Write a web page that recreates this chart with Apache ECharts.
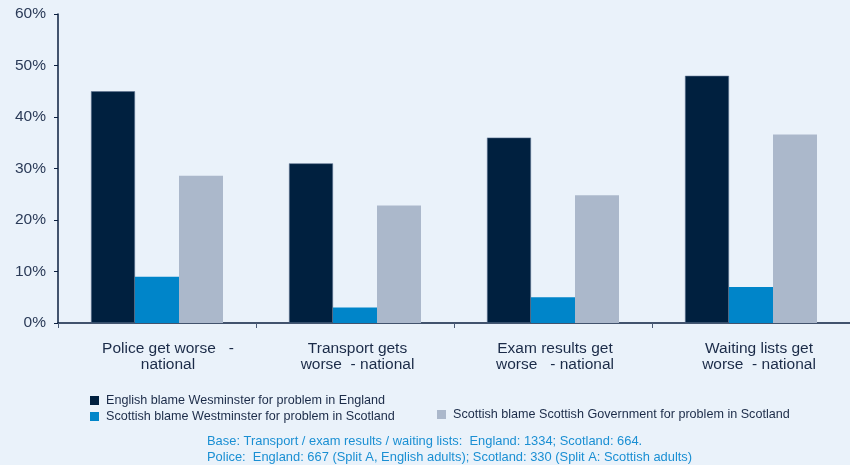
<!DOCTYPE html>
<html>
<head>
<meta charset="utf-8">
<script src="https://cdn.jsdelivr.net/npm/echarts@6/dist/echarts.min.js"></script>
<style>
  html, body { margin: 0; padding: 0; background: #eaf2fa; }
  #chart { width: 850px; height: 465px; }
</style>
</head>
<body>
<div id="chart"></div>
<script>
// Categories and series (percent of respondents)
const categories = [
  'Police get worse   -\nnational',
  'Transport gets\nworse  - national',
  'Exam results get\nworse   - national',
  'Waiting lists get\nworse  - national'
];
const englishBlameWestminster = [45, 31, 36, 48];
const scottishBlameWestminster = [9, 3, 5, 7];
const scottishBlameScotGov = [28.6, 22.8, 24.8, 36.6];

const seriesNames = [
  'English blame Wesminster for problem in England',
  'Scottish blame Westminster for problem in Scotland',
  'Scottish blame Scottish Government for problem in Scotland'
];
const yTicks = { min: 0, max: 60, interval: 10 };
const footnote = [
  'Base: Transport / exam results / waiting lists:  England: 1334; Scotland: 664.',
  'Police:  England: 667 (Split A, English adults); Scotland: 330 (Split A: Scottish adults)'
];

const font = '"Liberation Sans", Arial, Helvetica, sans-serif';
const textColor = '#1b2b48';
const colors = ['#00203f', '#0085c9', '#abb8cb'];
// small left nudges for the category labels (px of left padding)
const labelNudge = [22, 5, 4, 16];

const chart = echarts.init(document.getElementById('chart'), null, { renderer: 'canvas' });

const legendBase = {
  icon: 'rect',
  itemWidth: 9,
  itemHeight: 9,
  itemGap: 5,
  selectedMode: false,
  itemStyle: { borderWidth: 0 },
  textStyle: { fontFamily: font, fontSize: 12.6, color: textColor, padding: [0, 0, 0, 2] },
  padding: 0
};

chart.setOption({
  backgroundColor: '#eaf2fa',
  animation: false,
  color: colors,
  title: {
    text: footnote.join('\n'),
    left: 207,
    top: 433,
    padding: 0,
    textStyle: { fontFamily: font, fontSize: 12.9, fontWeight: 'normal', color: '#1a8fd3', lineHeight: 16 }
  },
  legend: [
    Object.assign({}, legendBase, { left: 90, top: 394, data: [seriesNames[0]] }),
    Object.assign({}, legendBase, { left: 90, top: 410, data: [seriesNames[1]] }),
    Object.assign({}, legendBase, { left: 437, top: 408, data: [seriesNames[2]] })
  ],
  grid: { left: 58, right: 0, top: 14, bottom: 142, containLabel: false },
  xAxis: {
    type: 'category',
    data: categories.map((c, i) => ({ value: c, textStyle: { padding: [0, 0, 0, labelNudge[i]] } })),
    axisLine: { lineStyle: { color: '#0b1f3f', width: 1.5 } },
    axisTick: { show: true, length: 5, lineStyle: { color: '#4a5a75' } },
    axisLabel: {
      fontFamily: font, fontSize: 15.5, color: textColor,
      lineHeight: 16.5, margin: 17, interval: 0
    }
  },
  yAxis: {
    type: 'value',
    min: yTicks.min,
    max: yTicks.max,
    interval: yTicks.interval,
    axisLine: { show: true, lineStyle: { color: '#0b1f3f', width: 1.5 } },
    axisTick: { show: true, length: 4, lineStyle: { color: '#0b1f3f' } },
    splitLine: { show: false },
    axisLabel: {
      formatter: '{value}%',
      fontFamily: font, fontSize: 15.5, color: '#2b3b58', margin: 12,
      padding: [3, 0, 0, 0]
    }
  },
  series: [
    { name: seriesNames[0], type: 'bar', data: englishBlameWestminster, barWidth: 44, barGap: '0%',
      itemStyle: { borderColor: '#5c7290', borderWidth: 0.6 } },
    { name: seriesNames[1], type: 'bar', data: scottishBlameWestminster, barWidth: 44, barGap: '0%' },
    { name: seriesNames[2], type: 'bar', data: scottishBlameScotGov, barWidth: 44, barGap: '0%' }
  ]
});
</script>
</body>
</html>
